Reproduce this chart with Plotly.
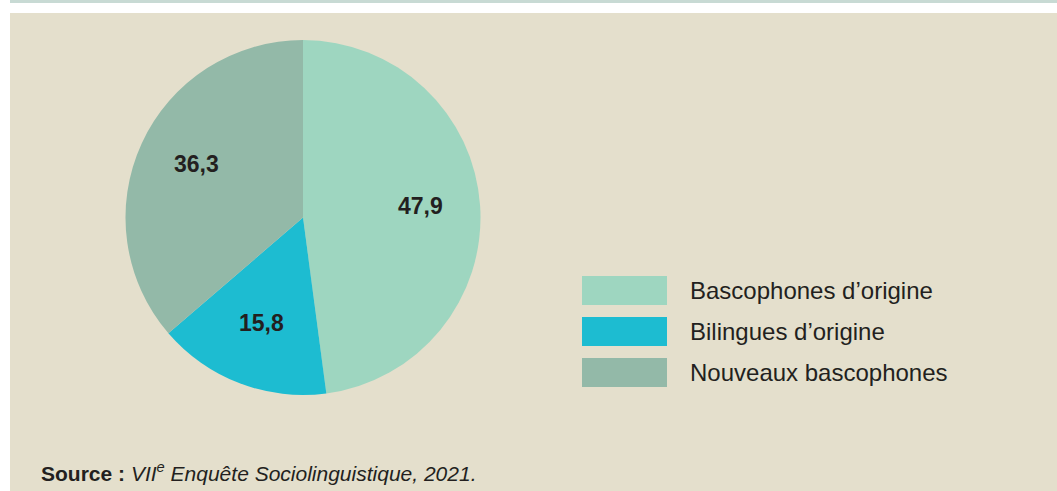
import math
import plotly.graph_objects as go

categories = ["Bascophones d’origine", "Bilingues d’origine", "Nouveaux bascophones"]
values = [47.9, 15.8, 36.3]
value_labels = ["47,9", "15,8", "36,3"]
colors = ["#9ed6c0", "#1dbcd1", "#93b9a8"]

W, H = 1057, 491
BG = "#e4dfcc"
TXT = "#231f20"
FONT = "Liberation Sans, Arial, sans-serif"

# pie box in pixels
PX0, PX1, PY0, PY1 = 125, 481, 40, 395
CX, CY = (PX0 + PX1) / 2, (PY0 + PY1) / 2
R = (PX1 - PX0) / 2

fig = go.Figure()
fig.add_trace(go.Pie(
    labels=categories,
    values=values,
    textinfo="none",
    marker=dict(colors=colors, line=dict(width=0)),
    sort=False,
    direction="clockwise",
    rotation=0,
    hoverinfo="label+value",
    domain=dict(x=[PX0 / W, PX1 / W], y=[1 - PY1 / H, 1 - PY0 / H]),
    showlegend=False,
))

shapes = [
    dict(type="rect", xref="paper", yref="paper", x0=10 / W, x1=1, y0=1 - 3 / H, y1=1,
         fillcolor="#c8dad4", line=dict(width=0), layer="below"),
    dict(type="rect", xref="paper", yref="paper", x0=10 / W, x1=1, y0=0, y1=1 - 13 / H,
         fillcolor=BG, line=dict(width=0), layer="below"),
]
annotations = []

# value labels placed at mid-angle of each slice
total = sum(values)
cum = 0.0
for v, lab in zip(values, value_labels):
    mid = (cum + v / 2) / total * 2 * math.pi
    cum += v
    r = 0.66 * R
    x = CX + r * math.sin(mid)
    y = CY - r * math.cos(mid) - 4
    annotations.append(dict(xref="paper", yref="paper", x=x / W, y=1 - y / H,
                            xanchor="center", yanchor="middle", showarrow=False,
                            text=f"<b>{lab}</b>",
                            font=dict(family=FONT, size=23, color=TXT)))

legend_rows = [(276, 305), (317, 346), (358, 387)]
for (y0, y1), name, col in zip(legend_rows, categories, colors):
    shapes.append(dict(type="rect", xref="paper", yref="paper",
                       x0=582 / W, x1=667 / W, y0=1 - y1 / H, y1=1 - y0 / H,
                       fillcolor=col, line=dict(width=0)))
    annotations.append(dict(xref="paper", yref="paper", x=688 / W, y=1 - (y0 + y1) / 2 / H,
                            xanchor="left", yanchor="middle", showarrow=False,
                            text=name,
                            font=dict(family=FONT, size=24, color=TXT)))

annotations.append(dict(xref="paper", yref="paper", x=39 / W, y=1 - 472 / H,
                        xanchor="left", yanchor="middle", showarrow=False,
                        text="<b>Source :</b> <i>VII<sup>e</sup> Enquête Sociolinguistique, 2021.</i>",
                        font=dict(family=FONT, size=21, color=TXT)))

fig.update_layout(
    width=W, height=H,
    margin=dict(l=0, r=0, t=0, b=0),
    paper_bgcolor="white",
    plot_bgcolor="white",
    shapes=shapes,
    annotations=annotations,
)

fig.write_html("out.html", config={"displayModeBar": False},
               post_script="document.body.style.margin='0';document.body.style.overflow='hidden';")
